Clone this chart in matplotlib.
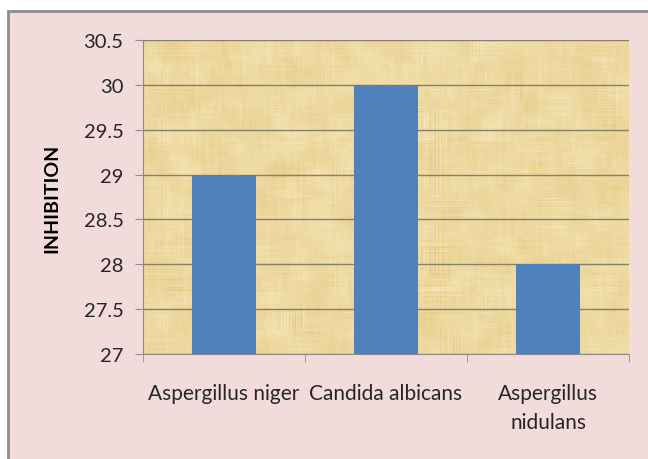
import numpy as np
import matplotlib.pyplot as plt
from matplotlib.patches import Rectangle

organisms = ['Aspergillus niger', 'Candida albicans', 'Aspergillus\nnidulans']
inhibition = [29, 30, 28]
yticks = [27, 27.5, 28, 28.5, 29, 29.5, 30, 30.5]
ytick_labels = ['27', '27.5', '28', '28.5', '29', '29.5', '30', '30.5']

plt.rcParams['font.family'] = ['Lato', 'DejaVu Sans']

fig = plt.figure(figsize=(6.48, 4.6), dpi=100)
fig.patch.set_facecolor('white')

# chart area frame: pink fill with grey edge, running off right/bottom
frame = Rectangle((8 / 648, -0.05), 1.0, 1 - 12 / 460 + 0.05, transform=fig.transFigure,
                  facecolor='#f2dcdb', edgecolor='#8c8c8c', linewidth=2, zorder=-1)
fig.patches.append(frame)

ax = fig.add_axes([143 / 648, 1 - 355 / 460, (629 - 143) / 648, (355 - 41) / 460])
ax.set_facecolor('none')


def smooth(a, k):
    # simple box blur along both axes
    ker = np.ones(k) / k
    a = np.apply_along_axis(lambda r: np.convolve(r, ker, mode='same'), 1, a)
    return np.apply_along_axis(lambda c: np.convolve(c, ker, mode='same'), 0, a)


def norm(a):
    return (a - a.mean()) / a.std()


# papyrus-like texture behind the bars: criss-cross fibres plus soft blotches
rng = np.random.default_rng(7)
h, w = 314, 486
rows = np.repeat(rng.normal(0, 1, (h, 1)), w, axis=1) * norm(smooth(rng.normal(0, 1, (h, w)), 31))
cols = np.repeat(rng.normal(0, 1, (1, w)), h, axis=0) * norm(smooth(rng.normal(0, 1, (h, w)), 31))
blot = norm(smooth(rng.normal(0, 1, (h, w)), 21))
fine = norm(smooth(rng.normal(0, 1, (h, w)), 2))
shade = 0.30 * rows + 0.30 * cols + 0.45 * blot + 0.15 * fine
light = np.array([244, 228, 180]) / 255
dark = np.array([224, 194, 118]) / 255
t = np.clip(0.32 + 0.18 * shade, 0, 1)[..., None]
tex = light * (1 - t) + dark * t
ax.imshow(tex, extent=(-0.5, 2.5, 27, 30.5), aspect='auto', zorder=0, interpolation='bilinear')

x = np.arange(len(organisms))
ax.bar(x, inhibition, width=0.39, color='#4f81bd', zorder=3)

ax.set_xlim(-0.5, 2.5)
ax.set_ylim(27, 30.5)
ax.set_yticks(yticks)
ax.set_yticklabels(ytick_labels)
ax.yaxis.grid(True, color='#857f6c', linewidth=1, zorder=1)
ax.set_axisbelow(False)

ax.set_xticks(x)
ax.set_xticklabels(organisms, fontsize=15, color='#262626', linespacing=1.55)
ax.set_xticks([-0.5, 0.5, 1.5, 2.5], minor=True)
ax.tick_params(axis='x', which='major', length=0, pad=21)
ax.tick_params(axis='x', which='minor', length=6, color='#8c8c8c', direction='out')
ax.tick_params(axis='y', length=6, color='#8c8c8c', labelsize=14.5, labelcolor='#262626', pad=8)

for side in ['top', 'right']:
    ax.spines[side].set_visible(False)
for side in ['left', 'bottom']:
    ax.spines[side].set_color('#8c8c8c')

ax.set_ylabel('INHIBITION', fontsize=14, fontweight='bold', color='black', labelpad=17)

fig.savefig('out.png', dpi=100, facecolor=fig.get_facecolor())
